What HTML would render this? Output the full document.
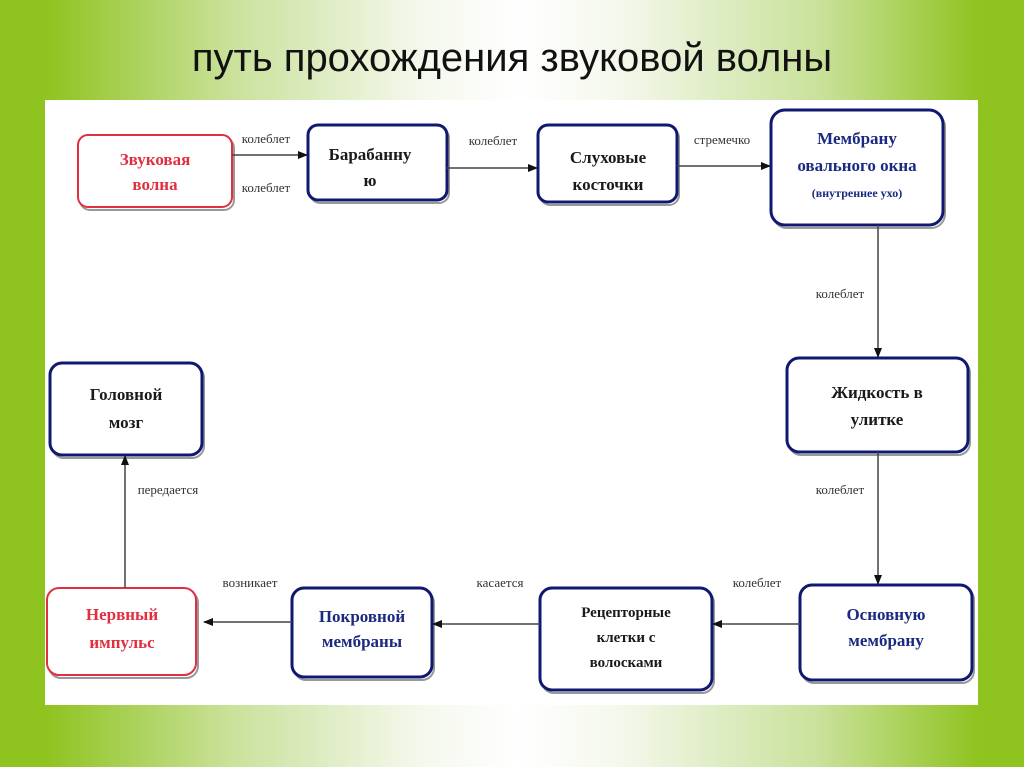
<!DOCTYPE html>
<html><head><meta charset="utf-8"><style>
body{margin:0;width:1024px;height:767px;overflow:hidden;position:relative;font-family:"Liberation Sans","Noto Sans CJK SC",sans-serif;
background:linear-gradient(90deg,#8fc31f 0px,#8fc31f 45px,#c9e19a 230px,#f4f8ec 420px,#fff 520px,#f4f8ec 620px,#c9e19a 820px,#8fc31f 980px,#8fc31f 1024px);}
.title{position:absolute;left:0;width:1024px;top:36px;text-align:center;font-size:40px;color:#111;}
.panel{position:absolute;left:45px;top:100px;width:933px;height:605px;background:#fff;}
svg{position:absolute;left:0;top:0}
.n{font-family:"Liberation Serif","Noto Serif CJK SC",serif;font-weight:bold;font-size:17px;text-anchor:middle}
.l{font-family:"Liberation Serif",serif;font-size:13px;fill:#333;text-anchor:middle}
</style></head><body>
<div class="title">путь прохождения звуковой волны</div>
<div class="panel"></div>
<svg width="1024" height="767">
<defs><marker id="a" markerWidth="10" markerHeight="10" refX="9" refY="5" orient="auto" markerUnits="userSpaceOnUse"><path d="M0,1 L10,5 L0,9z" fill="#111"/></marker></defs>
<g fill="none" stroke="#999" stroke-width="2" transform="translate(2,3)">
<rect x="78" y="135" width="154" height="72" rx="10"/>
<rect x="308" y="125" width="139" height="75" rx="10"/>
<rect x="538" y="125" width="139" height="77" rx="10"/>
<rect x="771" y="110" width="172" height="115" rx="14"/>
<rect x="787" y="358" width="181" height="94" rx="12"/>
<rect x="800" y="585" width="172" height="95" rx="12"/>
<rect x="540" y="588" width="172" height="102" rx="12"/>
<rect x="292" y="588" width="140" height="89" rx="12"/>
<rect x="47" y="588" width="149" height="87" rx="12"/>
<rect x="50" y="363" width="152" height="92" rx="12"/>
</g>
<g fill="#fff" stroke-width="3">
<rect x="78" y="135" width="154" height="72" rx="10" stroke="#e03040" stroke-width="2"/>
<rect x="308" y="125" width="139" height="75" rx="10" stroke="#101870"/>
<rect x="538" y="125" width="139" height="77" rx="10" stroke="#101870"/>
<rect x="771" y="110" width="172" height="115" rx="14" stroke="#101870"/>
<rect x="787" y="358" width="181" height="94" rx="12" stroke="#101870"/>
<rect x="800" y="585" width="172" height="95" rx="12" stroke="#101870"/>
<rect x="540" y="588" width="172" height="102" rx="12" stroke="#101870"/>
<rect x="292" y="588" width="140" height="89" rx="12" stroke="#101870"/>
<rect x="47" y="588" width="149" height="87" rx="12" stroke="#e03040" stroke-width="2"/>
<rect x="50" y="363" width="152" height="92" rx="12" stroke="#101870"/>
</g>
<g stroke="#444" stroke-width="1.5" marker-end="url(#a)">
<line x1="232" y1="155" x2="307" y2="155"/>
<line x1="447" y1="168" x2="537" y2="168"/>
<line x1="677" y1="166" x2="770" y2="166"/>
<line x1="878" y1="225" x2="878" y2="357"/>
<line x1="878" y1="452" x2="878" y2="584"/>
<line x1="800" y1="624" x2="713" y2="624"/>
<line x1="540" y1="624" x2="433" y2="624"/>
<line x1="292" y1="622" x2="204" y2="622"/>
<line x1="125" y1="588" x2="125" y2="456"/>
</g>
<g class="l">
<text x="266" y="143">колеблет</text><text x="266" y="192">колеблет</text>
<text x="493" y="145">колеблет</text><text x="722" y="144">стремечко</text>
<text x="840" y="298">колеблет</text><text x="840" y="494">колеблет</text>
<text x="757" y="587">колеблет</text><text x="500" y="587">касается</text>
<text x="250" y="587">возникает</text><text x="168" y="494">передается</text>
</g>
<g class="n" fill="#e03040">
<text x="155" y="165">Звуковая</text><text x="155" y="190">волна</text>
<text x="122" y="620">Нервный</text><text x="122" y="648">импульс</text>
</g>
<g class="n" fill="#1a1a1a">
<text x="370" y="160">Барабанну</text><text x="370" y="186">ю</text>
<text x="608" y="163">Слуховые</text><text x="608" y="190">косточки</text>
<text x="877" y="398">Жидкость в</text><text x="877" y="425">улитке</text>
<text x="126" y="400">Головной</text><text x="126" y="428">мозг</text>
</g>
<g class="n" fill="#1a2a80">
<text x="857" y="144">Мембрану</text><text x="857" y="171">овального окна</text>
<text x="857" y="197" style="font-size:12px">(внутреннее ухо)</text>
<text x="886" y="620">Основную</text><text x="886" y="646">мембрану</text>
<text x="362" y="622">Покровной</text><text x="362" y="647">мембраны</text>
</g>
<g class="n" fill="#1a1a1a" style="font-size:15px">
<text x="626" y="617">Рецепторные</text><text x="626" y="642">клетки с</text><text x="626" y="667">волосками</text>
</g>
</svg>
</body></html>
